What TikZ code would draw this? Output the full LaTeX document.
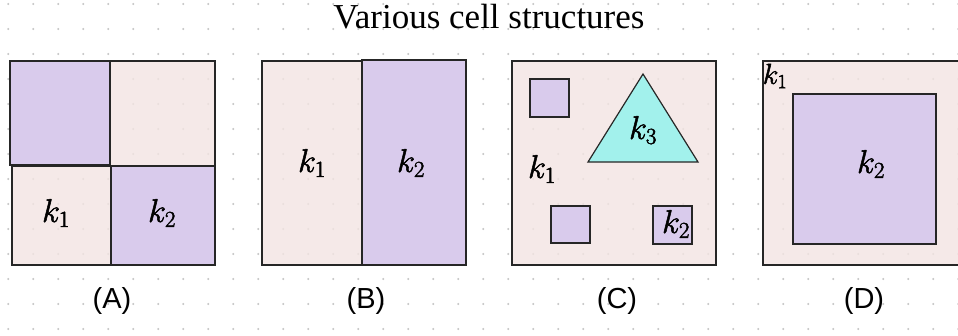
\RequirePackage{fix-cm}
\documentclass[tikz,border=0pt]{standalone}
\usepackage{fontspec}
\setmainfont{Liberation Serif}
\newfontfamily\labfont{Liberation Sans}
\DeclareMathSizes{33}{33}{23}{17}
\DeclareMathSizes{29}{29}{20}{15}
\newcommand{\heavytext}[1]{\special{pdf:literal direct 2 Tr 0.5 w}#1\special{pdf:literal direct 0 Tr}}
\definecolor{pinkc}{HTML}{F3E4E2}
\definecolor{purpc}{HTML}{D9CBEC}
\definecolor{cyanc}{HTML}{A2F1EC}
\definecolor{dotc}{HTML}{C4C4C4}
\definecolor{edgec}{HTML}{262626}
\tikzset{
  pinkbox/.style={fill=pinkc, fill opacity=0.8, draw=edgec, draw opacity=1, line width=1.2pt},
  purpbox/.style={fill=purpc, draw=edgec, line width=1.2pt},
  tribox/.style={fill=cyanc, draw=edgec, line width=1.2pt, line join=miter},
  klab/.style={inner sep=0pt, font=\fontsize{33}{36}\selectfont},
  ksmall/.style={inner sep=0pt, font=\fontsize{29}{32}\selectfont},
  caplab/.style={inner sep=0pt, font=\labfont\fontsize{29}{32}\selectfont},
}
\begin{document}
\begin{tikzpicture}[x=1pt,y=-1pt]
\useasboundingbox (0,0) rectangle (958,335);
% dot grid
\foreach \i in {0,...,38} {
  \foreach \j in {0,...,13} {
    \fill[dotc] (8.3+25*\i, 4+25*\j) circle (1.1);
  }
}
% title
\node[inner sep=0pt, font=\fontsize{35}{38}\selectfont] (title) at (489,17) {Various cell structures};
% (A)
\draw[purpbox] (10,61) rectangle (110,165);
\draw[pinkbox] (110,61) rectangle (215,166);
\draw[pinkbox] (12,166) rectangle (111,265);
\draw[purpbox] (111,166) rectangle (215,265);
\node[klab] (a1) at (56,213) {\heavytext{$k_1$}};
\node[klab] (a2) at (162,213) {\heavytext{$k_2$}};
\node[caplab] (capA) at (112,301) {(A)};
% (B)
\draw[pinkbox] (262,61) rectangle (362,265);
\draw[purpbox] (362,60) rectangle (466,265);
\node[klab] (b1) at (312,163) {\heavytext{$k_1$}};
\node[klab] (b2) at (411,163) {\heavytext{$k_2$}};
\node[caplab] (capB) at (366,301) {(B)};
% (C)
\draw[pinkbox] (512,61) rectangle (716,265);
\draw[purpbox] (530,79) rectangle (569,117);
\draw[tribox] (643,74) -- (698,162) -- (588,162) -- cycle;
\draw[purpbox] (551,206) rectangle (590,243);
\draw[purpbox] (653,206) rectangle (692,244);
\node[klab] (c3) at (643,130) {\heavytext{$k_3$}};
\node[klab] (c1) at (542,169) {\heavytext{$k_1$}};
\node[klab] (c2) at (676,224) {\heavytext{$k_2$}};
\node[caplab] (capC) at (617,301) {(C)};
% (D)
\draw[pinkbox] (763,61) rectangle (975,265);
\draw[purpbox] (793,94) rectangle (936,244);
\node[ksmall] (d1) at (775,76) {\heavytext{$k_1$}};
\node[klab] (d2) at (871,164) {\heavytext{$k_2$}};
\node[caplab] (capD) at (864,301) {(D)};
\end{tikzpicture}
\end{document}
